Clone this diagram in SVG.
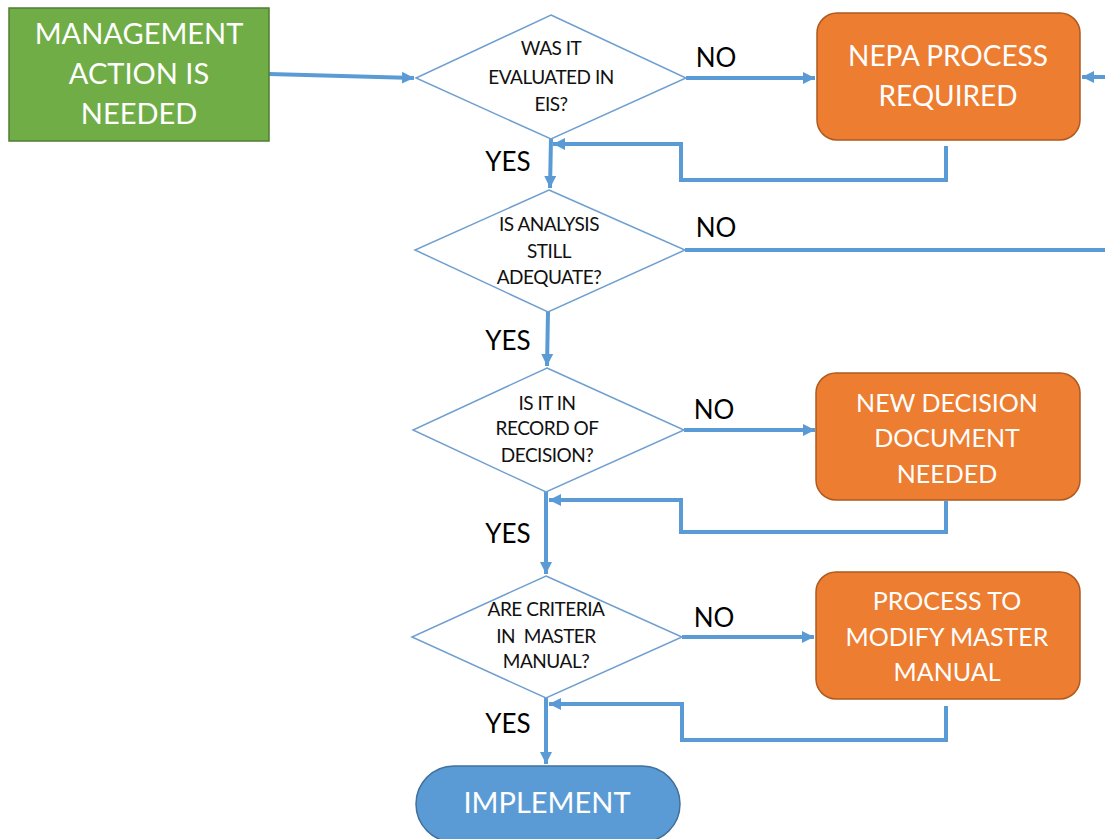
<svg xmlns="http://www.w3.org/2000/svg" width="1105" height="839" viewBox="0 0 1105 839">
  <style>
    .start { fill: #70ad47; stroke: #507e32; stroke-width: 1.5; }
    .decision { fill: #ffffff; stroke: #6f9fd0; stroke-width: 1.5; }
    .process { fill: #ed7d31; stroke: #ae5a21; stroke-width: 1.5; }
    .terminal { fill: #5b9bd5; stroke: #41719c; stroke-width: 1.5; }
    .wire { fill: none; stroke: #5b9bd5; stroke-width: 4; }
    .big { font-family: Lato, "Open Sans", sans-serif; font-size: 28px; fill: #ffffff; text-anchor: middle; }
    .mid { font-family: Lato, "Open Sans", sans-serif; font-size: 25px; fill: #ffffff; text-anchor: middle; }
    .q { font-family: Lato, "Open Sans", sans-serif; font-size: 19px; fill: #111111; text-anchor: middle; letter-spacing: -0.5px; white-space: pre; }
    .lbl { font-family: Lato, "Open Sans", sans-serif; font-size: 26px; fill: #000000; text-anchor: middle; }
  </style>
  <defs>
    <marker id="arrow" markerUnits="userSpaceOnUse" markerWidth="14" markerHeight="14" refX="12" refY="7" orient="auto">
      <path d="M0,1 L12,7 L0,13 Z" fill="#5b9bd5"/>
    </marker>
  </defs>

  <!-- connectors -->
  <g id="connectors">
    <path class="wire" d="M269,74 L414,78" marker-end="url(#arrow)"/>
    <path class="wire" d="M686,78 L815,78" marker-end="url(#arrow)"/>
    <path class="wire" d="M1105,77 L1082,77" marker-end="url(#arrow)"/>
    <path class="wire" d="M946,146 L946,180 L681,180 L681,144 L553,144" marker-end="url(#arrow)"/>
    <path class="wire" d="M551,139 L550,188" marker-end="url(#arrow)"/>
    <path class="wire" d="M685,250 L1105,250"/>
    <path class="wire" d="M548,312 L547,366" marker-end="url(#arrow)"/>
    <path class="wire" d="M684,430 L815,430" marker-end="url(#arrow)"/>
    <path class="wire" d="M946,501 L946,532 L681,532 L681,500 L549,500" marker-end="url(#arrow)"/>
    <path class="wire" d="M546,492 L546,574" marker-end="url(#arrow)"/>
    <path class="wire" d="M682,637 L814,637" marker-end="url(#arrow)"/>
    <path class="wire" d="M946,706 L946,740 L682,740 L682,704 L549,704" marker-end="url(#arrow)"/>
    <path class="wire" d="M546,698 L546,764" marker-end="url(#arrow)"/>
  </g>

  <!-- branch labels -->
  <g id="labels">
    <text class="lbl" x="716" y="67">NO</text>
    <text class="lbl" x="716" y="237">NO</text>
    <text class="lbl" x="714" y="419">NO</text>
    <text class="lbl" x="714" y="627">NO</text>
    <text class="lbl" x="508" y="171">YES</text>
    <text class="lbl" x="508" y="350">YES</text>
    <text class="lbl" x="508" y="543">YES</text>
    <text class="lbl" x="508" y="733">YES</text>
  </g>

  <g id="management-action">
    <rect class="start" x="9" y="8" width="260" height="133"/>
    <text class="big" x="139" y="44" style="font-size:29px">MANAGEMENT</text>
    <text class="big" x="139" y="84" style="font-size:29px">ACTION IS</text>
    <text class="big" x="139" y="124" style="font-size:29px">NEEDED</text>
  </g>

  <g id="evaluated-in-eis">
    <polygon class="decision" points="551,15 686,78 551,139 416,78"/>
    <text class="q" x="551" y="55">WAS IT</text>
    <text class="q" x="551" y="84">EVALUATED IN</text>
    <text class="q" x="551" y="111">EIS?</text>
  </g>

  <g id="nepa-process">
    <rect class="process" x="817" y="13" width="263" height="127" rx="20"/>
    <text class="big" x="948" y="66">NEPA PROCESS</text>
    <text class="big" x="948" y="106">REQUIRED</text>
  </g>

  <g id="analysis-adequate">
    <polygon class="decision" points="549,190 685,250 548,312 415,250"/>
    <text class="q" x="549" y="231">IS ANALYSIS</text>
    <text class="q" x="549" y="258">STILL</text>
    <text class="q" x="549" y="284">ADEQUATE?</text>
  </g>

  <g id="record-of-decision">
    <polygon class="decision" points="547,368 684,430 546,492 413,430"/>
    <text class="q" x="547" y="410">IS IT IN</text>
    <text class="q" x="547" y="435">RECORD OF</text>
    <text class="q" x="547" y="462">DECISION?</text>
  </g>

  <g id="new-decision-document">
    <rect class="process" x="816" y="373" width="264" height="127" rx="20"/>
    <text class="mid" x="947" y="412">NEW DECISION</text>
    <text class="mid" x="947" y="447">DOCUMENT</text>
    <text class="mid" x="947" y="483">NEEDED</text>
  </g>

  <g id="criteria-in-manual">
    <polygon class="decision" points="546,576 682,637 546,698 412,637"/>
    <text class="q" x="546" y="616">ARE CRITERIA</text>
    <text class="q" x="546" y="643" xml:space="preserve">IN  MASTER</text>
    <text class="q" x="546" y="668">MANUAL?</text>
  </g>

  <g id="modify-master-manual">
    <rect class="process" x="816" y="572" width="264" height="127" rx="20"/>
    <text class="mid" x="947" y="610">PROCESS TO</text>
    <text class="mid" x="947" y="646">MODIFY MASTER</text>
    <text class="mid" x="947" y="681">MANUAL</text>
  </g>

  <g id="implement">
    <rect class="terminal" x="416" y="766" width="264" height="76" rx="38"/>
    <text class="big" x="547" y="813" style="font-size:29px">IMPLEMENT</text>
  </g>
</svg>
